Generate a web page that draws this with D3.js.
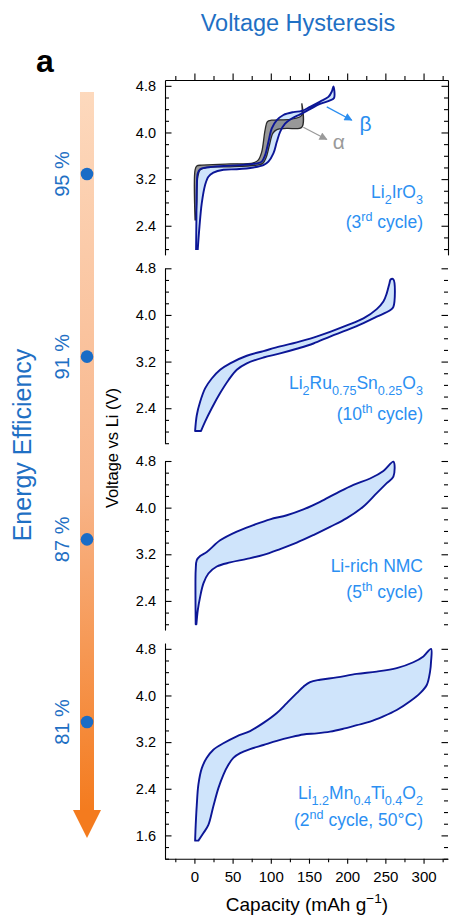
<!DOCTYPE html>
<html><head><meta charset="utf-8">
<script src="https://cdn.jsdelivr.net/npm/d3@7"></script>
<style>
body{margin:0;background:#fff}
svg{display:block}
text{font-family:"Liberation Sans",Arial,Helvetica,sans-serif}
</style></head>
<body><svg id="chart" width="454" height="920"></svg>
<script>
// ---------------- DATA ----------------
const capacityTicks = [0, 50, 100, 150, 200, 250, 300];
const capacityMinorTicks = [-25, 25, 75, 125, 175, 225, 275, 325];
const voltageTicks = [1.6, 2.4, 3.2, 4.0, 4.8];
const efficiencyLabels = ["95 %", "91 %", "87 %", "81 %"];
const materialLabels = ["Li_{2}IrO_{3}", "Li_{2}Ru_{0.75}Sn_{0.25}O_{3}", "Li-rich NMC", "Li_{1.2}Mn_{0.4}Ti_{0.4}O_{2}"];
const cycleLabels = ["(3^{rd} cycle)", "(10^{th} cycle)", "(5^{th} cycle)", "(2^{nd} cycle, 50°C)"];

// Li2IrO3, beta loop (3rd cycle): [capacity, voltage]
const irBetaCharge = [[2.2,2.0],[2.6,2.5],[3.1,3.07],[4.4,3.30],[7.5,3.37],[16.2,3.40],[38,3.425],[60,3.44],[81.7,3.47],[88.2,3.50],[92.5,3.61],[96.9,3.84],[101.3,4.07],[107.9,4.21],[116.5,4.30],[129.6,4.35],[140.6,4.37],[151.4,4.44],[164.5,4.53],[175.4,4.61],[179.8,4.70],[182,4.79]];
const irBetaDischarge = [[182.8,4.59],[177.6,4.55],[164.5,4.49],[151.4,4.40],[138.4,4.31],[127.5,4.24],[118.7,4.15],[112.2,4.01],[107.9,3.84],[103.4,3.64],[96.9,3.50],[90.3,3.44],[77.2,3.40],[55.5,3.37],[38,3.36],[24.8,3.31],[18.3,3.24],[14,3.10],[9.6,2.785],[6.6,2.38],[4.4,2.0]];
// Li2IrO3, alpha loop
const irAlphaCharge = [[0.9,2.5],[0.9,3.36],[3.1,3.425],[9.6,3.44],[46.8,3.46],[77.2,3.48],[83.8,3.53],[88.2,3.67],[92.5,4.04],[95.5,4.185],[101.3,4.21],[125.2,4.225],[138.3,4.27],[140.6,4.30],[140.6,4.50]];
const irAlphaDischarge = [[140.6,4.09],[121,4.07],[107.9,4.05],[102.6,3.985],[98.3,3.785],[93.9,3.57],[89.5,3.47],[81.7,3.44],[46.8,3.41],[16.2,3.40],[7.5,3.36],[4.4,3.24],[3.1,2.785],[1.7,2.5]];
// Li2Ru0.75Sn0.25O3 (10th cycle)
const ruCharge = [[0.9,2.01],[3.1,2.28],[7.5,2.51],[14,2.74],[22.7,2.91],[33.7,3.06],[46.8,3.17],[68.6,3.30],[90.4,3.38],[112.2,3.46],[134,3.53],[155.8,3.61],[177.6,3.71],[199.5,3.82],[221.3,3.94],[238.7,4.10],[247.4,4.23],[251.8,4.37],[255.3,4.54],[257,4.61],[260.5,4.61]];
const ruDischarge = [[260.5,4.14],[256.2,4.08],[238.7,3.97],[221.3,3.86],[199.5,3.74],[177.6,3.63],[155.8,3.51],[134,3.42],[112.2,3.34],[90.4,3.27],[68.6,3.17],[55.5,3.06],[44.5,2.88],[33.7,2.66],[22.7,2.40],[14,2.17],[8.7,2.01]];
// Li-rich NMC (5th cycle)
const nmcCharge = [[1.7,2.00],[1.4,2.47],[1.7,2.93],[3.1,3.10],[7.5,3.17],[16.2,3.24],[33.7,3.44],[55.5,3.59],[77.2,3.70],[99.1,3.80],[121,3.87],[142.7,3.97],[164.5,4.10],[186.4,4.25],[208.2,4.39],[230,4.50],[247.4,4.63],[260.5,4.79]];
const nmcDischarge = [[260.5,4.53],[251.8,4.42],[238.7,4.25],[221.3,4.02],[199.5,3.82],[177.6,3.67],[155.8,3.53],[134,3.40],[112.2,3.29],[90.4,3.19],[68.6,3.12],[46.8,3.06],[29.3,2.99],[18.3,2.87],[11.8,2.70],[7.5,2.47],[4.4,2.24],[2.6,2.00]];
// Li1.2Mn0.4Ti0.4O2 (2nd cycle, 50 C)
const lmtoCharge = [[0.9,1.51],[1.7,1.78],[3.1,2.12],[5.2,2.47],[9.6,2.75],[16.2,2.93],[24.8,3.07],[37.9,3.18],[55.5,3.30],[72.9,3.39],[90.4,3.53],[107.9,3.70],[121,3.87],[134,4.04],[142.7,4.15],[151.4,4.23],[164.5,4.27],[186.4,4.31],[212.6,4.37],[238.7,4.41],[264.9,4.47],[286.6,4.57],[299.8,4.67],[309.8,4.80]];
const lmtoDischarge = [[309.8,4.58],[308.5,4.41],[304.2,4.18],[295.5,4.04],[282.4,3.90],[264.9,3.75],[247.4,3.64],[230,3.55],[212.6,3.49],[195.1,3.43],[177.6,3.38],[160.2,3.35],[142.7,3.33],[125.2,3.28],[107.9,3.22],[90.4,3.15],[72.9,3.08],[59.9,3.01],[51,2.93],[44.5,2.81],[37.9,2.64],[31.4,2.41],[24.8,2.10],[18.3,1.78],[11.8,1.64],[5.2,1.51]];

// ---------------- LAYOUT ----------------
const svg = d3.select("#chart");
const X0 = 165, X1 = 448, PXV = 58.3;
const x = d3.scaleLinear().domain([-38.5, 332]).range([X0, X1]);
const panels = [
  {top: 80,    domain: [1.9, 4.9], loops: [[irBetaCharge, irBetaDischarge]], lab: [198, 228]},
  {top: 268.3, domain: [1.8, 4.8], loops: [[ruCharge, ruDischarge]], lab: [389, 420]},
  {top: 461,   domain: [1.9, 4.8], loops: [[nmcCharge, nmcDischarge]], lab: [572, 598]},
  {top: 643,   domain: [1.2, 4.9], loops: [[lmtoCharge, lmtoDischarge]], lab: [799, 826]}
];
panels.forEach(p => {
  p.bottom = p.top + (p.domain[1] - p.domain[0]) * PXV;
  p.y = d3.scaleLinear().domain(p.domain).range([p.bottom, p.top]);
});

const BLUE_FILL = "#cfe4fb", NAVY = "#0c1696", LABEL_BLUE = "#2b8ff2", DARK_BLUE = "#1f70c4";

// rich text helper: _{sub} ^{sup}
function rich(textSel, str, size) {
  const re = /(_\{[^}]*\}|\^\{[^}]*\}|[^_^]+)/g;
  let m, shift = 0;
  while ((m = re.exec(str)) !== null) {
    let t = m[0], target = 0, fs = size;
    if (t.startsWith("_{")) { t = t.slice(2, -1); target = size * 0.32; fs = size * 0.72; }
    else if (t.startsWith("^{")) { t = t.slice(2, -1); target = -size * 0.4; fs = size * 0.72; }
    textSel.append("tspan").attr("dy", target - shift).attr("font-size", fs).text(t);
    shift = target;
  }
}

// ---------------- TITLE & LEFT DECORATION ----------------
svg.append("text").attr("x", 298).attr("y", 31).attr("text-anchor", "middle")
  .attr("font-size", 23.5).attr("fill", DARK_BLUE).text("Voltage Hysteresis");
svg.append("text").attr("x", 36).attr("y", 72).attr("font-size", 32).attr("font-weight", "bold")
  .attr("fill", "#000").text("a");

const defs = svg.append("defs");
const grad = defs.append("linearGradient").attr("id", "eg").attr("x1", 0).attr("x2", 0).attr("y1", 0).attr("y2", 1);
grad.append("stop").attr("offset", "0%").attr("stop-color", "#fdd9bd");
grad.append("stop").attr("offset", "55%").attr("stop-color", "#f8b58a");
grad.append("stop").attr("offset", "100%").attr("stop-color", "#f47b1e");
svg.append("rect").attr("x", 80).attr("y", 92).attr("width", 14).attr("height", 720).attr("fill", "url(#eg)");
svg.append("path").attr("d", "M73,810 L101,810 L87,838 Z").attr("fill", "#f47b1e");

const effY = d3.scalePoint().domain(efficiencyLabels).range([174, 722]);
svg.selectAll(".effdot").data(efficiencyLabels).join("circle")
  .attr("cx", 87).attr("cy", d => effY(d)).attr("r", 6.3).attr("fill", "#1a6cc6");
svg.selectAll(".efflab").data(efficiencyLabels).join("text")
  .attr("transform", d => `translate(69,${effY(d)}) rotate(-90)`)
  .attr("text-anchor", "middle").attr("font-size", 20).attr("fill", DARK_BLUE).text(d => d);
svg.append("text").attr("transform", "translate(31,445) rotate(-90)").attr("text-anchor", "middle")
  .attr("font-size", 25).attr("fill", DARK_BLUE).text("Energy Efficiency");
svg.append("text").attr("transform", "translate(118,448) rotate(-90)").attr("text-anchor", "middle")
  .attr("font-size", 16.5).attr("fill", "#000").text("Voltage vs Li (V)");

// ---------------- PANELS ----------------
const fmtV = d3.format(".1f");
function styleAxis(g, fs) {
  g.selectAll("path,line").attr("stroke", "#000").attr("stroke-width", 1.1);
  g.selectAll("text").attr("font-size", fs || 14.5).attr("fill", "#000")
    .attr("font-family", '"Liberation Sans",Arial,sans-serif');
}

panels.forEach((p, i) => {
  const y = p.y;
  const majors = voltageTicks.filter(v => v >= p.domain[0] - 1e-6 && v <= p.domain[1] + 1e-6);
  const minors = d3.range(1.2, 4.95, 0.2).map(v => +v.toFixed(1))
    .filter(v => v >= p.domain[0] - 1e-6 && v <= p.domain[1] + 1e-6 && !majors.some(m => Math.abs(m - v) < 1e-6));
  const line = d3.line().x(d => x(d[0])).y(d => y(d[1])).curve(d3.curveCatmullRom.alpha(0.5));
  const g = svg.append("g");

  // loops
  if (i === 0) {
    const pathA = line(irAlphaCharge.concat(irAlphaDischarge)) + "Z";
    const pathB = line(irBetaCharge.concat(irBetaDischarge)) + "Z";
    g.append("path").attr("d", pathB).attr("fill", BLUE_FILL);
    g.append("path").attr("d", pathA).attr("fill", "#707070").attr("fill-opacity", 0.72)
      .attr("stroke", "#2a2a2a").attr("stroke-width", 1.3);
    g.append("path").attr("d", pathB).attr("fill", "none").attr("stroke", NAVY).attr("stroke-width", 1.9);
  } else {
    p.loops.forEach(([c, d]) => {
      g.append("path").attr("d", line(c.concat(d)) + "Z")
        .attr("fill", BLUE_FILL).attr("stroke", NAVY).attr("stroke-width", 1.9).attr("stroke-linejoin", "round");
    });
  }

  // left axis (ticks inward)
  const la = g.append("g").attr("transform", `translate(${X0},0)`)
    .call(d3.axisLeft(y).tickValues(majors).tickFormat(fmtV).tickSize(-6.5).tickSizeOuter(0).tickPadding(9));
  la.append("g").call(d3.axisLeft(y).tickValues(minors).tickFormat("").tickSize(-4).tickSizeOuter(0))
    .select(".domain").remove();
  styleAxis(la);

  // right ticks (inward)
  const ra = g.append("g").attr("transform", `translate(${X1},0)`)
    .call(d3.axisRight(y).tickValues(majors).tickFormat("").tickSize(-6.5).tickSizeOuter(0));
  ra.append("g").call(d3.axisRight(y).tickValues(minors).tickFormat("").tickSize(-4).tickSizeOuter(0))
    .select(".domain").remove();
  if (i !== 0) ra.select(".domain").remove();
  styleAxis(ra);

  if (i === 0) {
    const ta = g.append("g").attr("transform", `translate(0,${p.top})`)
      .call(d3.axisTop(x).tickValues(capacityTicks).tickFormat("").tickSize(6.5).tickSizeOuter(0));
    ta.append("g").call(d3.axisTop(x).tickValues(capacityMinorTicks).tickFormat("").tickSize(4).tickSizeOuter(0))
      .select(".domain").remove();
    styleAxis(ta);
  }
  if (i === panels.length - 1) {
    const ba = g.append("g").attr("transform", `translate(0,${p.bottom})`)
      .call(d3.axisBottom(x).tickValues(capacityTicks).tickSize(5).tickSizeOuter(0).tickPadding(8));
    ba.append("g").call(d3.axisBottom(x).tickValues(capacityMinorTicks).tickFormat("").tickSize(3.5).tickSizeOuter(0))
      .select(".domain").remove();
    styleAxis(ba, 15);
  }

  // material labels
  const t1 = g.append("text").attr("x", 423).attr("y", p.lab[0]).attr("text-anchor", "end").attr("fill", LABEL_BLUE).attr("font-size", 17.5);
  rich(t1, materialLabels[i], 17.5);
  const t2 = g.append("text").attr("x", 423).attr("y", p.lab[1]).attr("text-anchor", "end").attr("fill", LABEL_BLUE).attr("font-size", 17.5);
  rich(t2, cycleLabels[i], 17.5);
});

// annotation arrows in panel 1
const annotations = [
  {label: "β", from: [173.3, 4.44], to: [206, 4.21], text: [216, 4.03], color: "#2b8ef0", font: '"Liberation Sans",Arial,sans-serif'},
  {label: "α", from: [142.6, 4.09], to: [173.3, 3.88], text: [181, 3.71], color: "#9a9a9a", font: '"DejaVu Serif","Liberation Serif",serif'}
];
const y1 = panels[0].y;
annotations.forEach((a, k) => {
  defs.append("marker").attr("id", "ah" + k).attr("viewBox", "0 0 10 10").attr("refX", 9).attr("refY", 5)
    .attr("markerWidth", 9).attr("markerHeight", 8).attr("markerUnits", "userSpaceOnUse").attr("orient", "auto")
    .append("path").attr("d", "M0,0 L10,5 L0,10 Z").attr("fill", a.color);
  svg.append("line").attr("x1", x(a.from[0])).attr("y1", y1(a.from[1])).attr("x2", x(a.to[0])).attr("y2", y1(a.to[1]))
    .attr("stroke", a.color).attr("stroke-width", 1.3).attr("marker-end", `url(#ah${k})`);
  svg.append("text").attr("x", x(a.text[0])).attr("y", y1(a.text[1])).attr("font-size", 21)
    .attr("font-family", a.font).attr("fill", a.color).text(a.label);
});

// x axis title
const xt = svg.append("text").attr("x", 307).attr("y", 911).attr("text-anchor", "middle").attr("font-size", 19).attr("fill", "#000");
rich(xt, "Capacity (mAh g^{−1})", 19);
</script>
</body></html>
